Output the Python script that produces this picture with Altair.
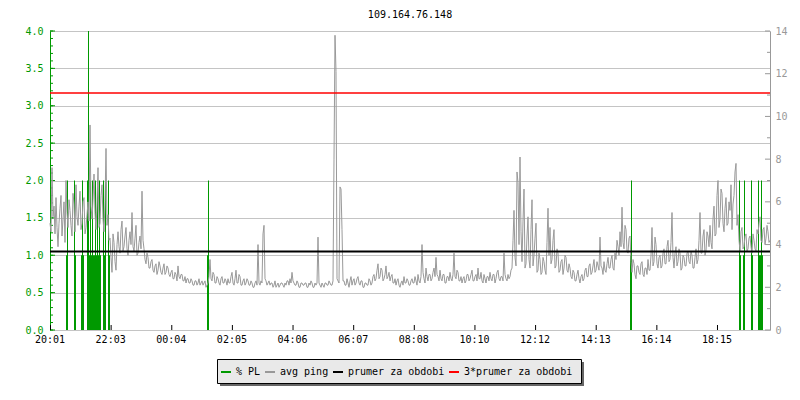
import altair as alt
import pandas as pd

# ---------------- data ----------------
title_text = "109.164.76.148"
series_names = ["% PL", "avg ping", "prumer za obdobi", "3*prumer za obdobi"]
series_colors = ["#009900", "#999999", "#000000", "#ff0000"]

x_labels = ["20:01", "22:03", "00:04", "02:05", "04:06", "06:07",
            "08:08", "10:10", "12:12", "14:13", "16:14", "18:15"]
x_tick_step = 121.27  # minutes between labelled ticks
x_span = 1440         # minutes shown

# avg ping (ms), one sample every 2 minutes from 20:01
ping_step = 2
ping_ms = [
    5.0, 4.6, 7.6, 5.3, 5.8, 4.5, 6.2, 4.8, 3.9, 5.0, 5.7, 6.3, 4.4, 5.2, 6.0, 4.1, 7.0, 5.5, 4.8, 6.1,
    5.6, 4.9, 4.4, 6.4, 5.9, 4.6, 6.8, 5.3, 4.9, 5.8, 6.5, 4.7, 5.0, 6.0, 6.2, 4.5, 4.8, 5.4, 6.0, 5.1,
    9.6, 5.8, 5.2, 6.1, 7.3, 5.5, 4.7, 5.9, 7.6, 4.8, 5.0, 6.3, 6.8, 5.2, 4.6, 6.0, 8.5, 4.9, 5.4, 4.2,
    4.3, 3.4, 2.7, 4.5, 4.1, 3.2, 2.8, 4.0, 4.6, 3.9, 3.6, 4.7, 5.1, 3.7, 3.9, 4.4, 4.8, 3.8, 3.5, 4.2,
    4.6, 4.0, 5.5, 3.9, 3.7, 4.3, 4.9, 3.5, 3.6, 4.1, 4.4, 3.8, 6.5, 4.2, 3.8, 3.3, 3.1, 3.6, 3.4, 2.9,
    2.9, 3.2, 3.3, 2.8, 2.7, 3.0, 3.1, 2.6, 2.8, 3.2, 3.0, 2.7, 2.6, 2.9, 3.1, 2.6, 2.7, 3.0, 2.9, 2.6,
    2.5, 2.7, 2.8, 2.4, 2.4, 2.7, 2.6, 2.3, 3.0, 2.5, 2.4, 2.6, 2.6, 2.3, 2.3, 2.5, 2.2, 2.4, 2.4, 2.2,
    2.2, 2.4, 2.3, 2.1, 2.1, 2.3, 2.3, 2.1, 2.2, 2.4, 2.1, 2.2, 2.3, 2.1, 2.2, 2.3, 2.0, 2.1, 2.2, 2.5,
    3.3, 2.4, 2.3, 2.7, 2.6, 2.2, 2.2, 2.5, 2.4, 2.2, 2.1, 2.4, 2.5, 2.2, 2.2, 2.4, 2.3, 2.1, 2.4, 2.2,
    2.2, 2.5, 2.7, 2.2, 2.1, 2.4, 2.8, 2.2, 2.2, 2.6, 2.5, 2.1, 2.1, 2.3, 2.4, 2.1, 2.2, 2.4, 2.3, 2.1,
    2.1, 2.3, 2.2, 2.0, 2.0, 2.2, 2.3, 2.1, 4.0, 2.2, 2.1, 2.3, 2.2, 4.5, 4.9, 2.4, 2.3, 2.1, 2.2, 2.3,
    2.1, 2.2, 2.2, 2.0, 2.1, 2.3, 2.0, 2.1, 2.2, 2.0, 2.1, 2.2, 2.2, 2.1, 2.0, 2.2, 2.1, 2.3, 2.3, 2.1,
    2.4, 2.2, 2.7, 2.3, 2.2, 2.1, 2.1, 2.3, 2.2, 2.0, 2.0, 2.2, 2.2, 2.1, 2.1, 2.2, 2.2, 2.0, 2.0, 2.2,
    2.1, 2.3, 2.2, 2.0, 2.0, 2.2, 2.1, 2.2, 4.35, 2.2, 2.1, 2.0, 2.2, 2.1, 2.0, 2.2, 2.2, 2.1, 2.1, 2.3,
    2.2, 2.1, 2.1, 2.3, 8.0, 13.8, 12.1, 2.4, 2.3, 2.2, 6.7, 6.6, 4.7, 2.3, 2.3, 2.1, 2.1, 2.4, 2.2, 2.0,
    2.3, 2.5, 2.1, 2.3, 2.4, 2.1, 2.2, 2.4, 2.5, 2.2, 2.1, 2.3, 2.3, 2.0, 2.0, 2.2, 2.2, 2.1, 2.1, 2.4,
    2.3, 2.1, 2.2, 2.5, 2.6, 2.3, 2.4, 2.8, 3.1, 2.4, 2.5, 2.9, 2.8, 2.3, 2.4, 2.6, 3.0, 2.4, 2.5, 2.7,
    2.3, 2.5, 2.6, 2.2, 2.2, 2.4, 2.1, 2.3, 2.4, 2.1, 2.0, 2.2, 2.3, 2.1, 2.5, 2.2, 2.2, 2.4, 2.3, 2.1,
    2.1, 2.3, 2.4, 2.2, 2.2, 2.5, 2.3, 2.1, 2.6, 2.3, 2.2, 2.5, 4.0, 2.7, 2.4, 2.2, 2.9, 2.5, 2.3, 2.6,
    2.6, 2.3, 2.4, 2.7, 2.9, 2.5, 3.4, 2.6, 2.5, 2.3, 2.8, 2.4, 2.3, 2.6, 2.6, 2.2, 2.2, 2.5, 2.5, 2.3,
    2.7, 2.4, 2.3, 2.6, 3.6, 2.5, 2.4, 2.8, 2.7, 2.3, 2.3, 2.5, 2.2, 2.4, 2.5, 2.2, 2.3, 2.6, 2.6, 2.3,
    2.4, 2.6, 2.8, 2.3, 2.3, 2.5, 2.6, 2.3, 2.9, 2.4, 2.4, 2.7, 2.3, 2.2, 2.6, 2.4, 2.2, 2.5, 2.5, 2.3,
    2.7, 2.4, 2.3, 2.6, 2.6, 2.2, 2.4, 2.7, 2.8, 2.4, 2.3, 2.5, 2.5, 2.3, 3.6, 2.6, 2.4, 2.3, 2.6, 2.4,
    2.5, 2.8, 2.9, 4.2, 5.6, 3.4, 3.0, 7.4, 6.9, 4.0, 8.1, 4.6, 3.2, 5.1, 6.6, 2.9, 3.1, 4.4, 5.3, 3.3,
    2.9, 4.7, 6.1, 3.0, 3.5, 4.3, 5.0, 2.7, 2.8, 3.6, 3.3, 2.6, 2.7, 3.4, 3.2, 2.8, 2.6, 4.1, 5.7, 3.5,
    4.8, 3.1, 3.3, 4.2, 4.7, 2.9, 3.0, 3.8, 3.6, 2.7, 2.8, 3.2, 3.3, 2.6, 2.9, 3.5, 3.4, 2.8, 2.7, 3.1,
    2.9, 2.5, 2.4, 2.8, 2.7, 2.3, 2.3, 2.6, 2.8, 2.4, 2.2, 2.5, 2.6, 2.3, 2.4, 2.8, 2.9, 2.5, 2.5, 3.0,
    3.1, 2.6, 2.7, 3.0, 3.3, 2.7, 2.8, 3.2, 3.0, 2.8, 4.35, 3.0, 2.9, 2.6, 3.2, 2.8, 2.7, 3.1, 3.4, 2.9,
    2.9, 3.3, 3.5, 2.9, 2.8, 3.6, 3.3, 4.2, 3.9, 3.5, 4.6, 3.9, 5.75, 4.1, 3.8, 4.9, 4.7, 3.7, 3.6, 4.3,
    4.4, 3.2, 2.7, 3.3, 3.1, 2.6, 2.4, 3.0, 3.0, 2.7, 2.6, 3.1, 3.2, 2.6, 2.5, 2.9, 2.9, 2.6, 3.3, 2.8,
    2.8, 3.5, 4.8, 3.0, 3.2, 4.35, 4.0, 3.1, 2.9, 3.4, 3.5, 2.9, 3.0, 3.6, 3.8, 3.1, 3.1, 3.9, 4.2, 3.2,
    3.3, 4.1, 5.5, 3.4, 2.9, 3.6, 3.9, 3.0, 3.2, 3.8, 3.6, 2.8, 2.9, 3.5, 3.4, 3.0, 3.0, 3.6, 3.7, 3.2,
    3.1, 3.7, 3.5, 2.9, 2.9, 3.4, 3.8, 3.1, 3.3, 4.2, 5.5, 3.6, 3.6, 4.4, 4.7, 3.5, 3.7, 4.6, 4.4, 3.9,
    4.9, 4.1, 3.8, 5.2, 5.8, 4.4, 4.5, 6.3, 7.0, 4.8, 5.2, 6.6, 6.4, 5.0, 4.6, 5.7, 6.2, 4.9, 5.0, 6.0,
    5.6, 6.8, 4.7, 5.9, 6.3, 7.4, 7.8, 4.9, 5.4, 4.2, 3.7, 4.6, 4.8, 3.8, 3.9, 4.4, 4.5, 3.7, 3.8, 4.3,
    4.4, 3.9, 3.6, 4.5, 4.2, 3.8, 3.7, 4.7, 4.5, 5.0, 5.3, 4.2, 4.1, 4.7, 4.8, 4.0, 4.3, 4.9, 4.6, 4.1,
    4.2,
]

# packet loss (%), minutes after 20:01
pl_minutes = [32, 34, 48, 50, 62, 64, 66, 74, 76, 78, 80, 82, 84, 86, 88, 90,
              92, 94, 96, 98, 100, 106, 108, 110, 116, 118, 314, 316, 1160, 1162,
              1378, 1380, 1386, 1388, 1402, 1404, 1416, 1418, 1420, 1422, 1424]
pl_values = [1.0, 2.0, 2.0, 1.0, 1.0, 2.0, 1.0, 2.0, 4.0, 1.0, 2.0, 1.0, 2.0, 1.0, 1.0, 2.0,
             1.0, 2.0, 1.0, 2.0, 1.0, 2.0, 1.0, 2.0, 2.0, 1.0, 1.0, 2.0, 1.0, 2.0,
             2.0, 1.0, 1.0, 2.0, 2.0, 1.0, 2.0, 1.0, 1.0, 2.0, 1.0]

avg_ping = 3.68       # prumer za obdobi (ms)
avg_ping_3x = 11.1    # 3*prumer za obdobi (ms)

left_ticks = [0.0, 0.5, 1.0, 1.5, 2.0, 2.5, 3.0, 3.5, 4.0]
left_minor = [i / 10 for i in range(41)]
right_ticks = [0, 2, 4, 6, 8, 10, 12, 14]
right_minor = [1, 3, 5, 7, 9, 11, 13]

# ---------------- chart ----------------
W, H = 720, 299
FONT = "DejaVu Sans Mono"
GREEN, GRAY = series_colors[0], series_colors[1]

df_ping = pd.DataFrame({"t": [i * ping_step for i in range(len(ping_ms))], "ms": ping_ms,
                        "s": series_names[1]})
df_pl = pd.DataFrame({"t": pl_minutes, "pl": pl_values, "s": series_names[0]})
df_avg = pd.DataFrame({"v": [avg_ping], "s": [series_names[2]]})
df_avg3 = pd.DataFrame({"v": [avg_ping_3x], "s": [series_names[3]]})
df_xt = pd.DataFrame({"t": [k * x_tick_step for k in range(len(x_labels))],
                      "lab": x_labels})

xscale = alt.Scale(domain=[0, x_span], nice=False, zero=False)
lscale = alt.Scale(domain=[0, 4], nice=False)
rscale = alt.Scale(domain=[0, 14], nice=False)
cscale = alt.Scale(domain=series_names, range=series_colors)

legend = alt.Legend(
    title=None, orient="none", legendX=170, legendY=335, direction="horizontal",
    symbolType="stroke", symbolSize=100, symbolStrokeWidth=2,
    labelFont=FONT, labelFontSize=10, labelColor="black", labelOffset=4,
    columnPadding=0, padding=0,
)
color = alt.Color("s:N", scale=cscale, legend=legend)

x_axis = alt.Axis(ticks=False, grid=False, labels=False, domainColor="black", title=None)
left_axis = alt.Axis(values=left_ticks, format=".1f", ticks=False, grid=True,
                     gridColor="#c4c4c4", domainColor=GREEN, labelColor=GREEN,
                     labelPadding=7, orient="left", title=None)
right_axis = alt.Axis(values=right_ticks, ticks=False, grid=False, domainColor=GRAY,
                      labelColor=GRAY, labelPadding=5, orient="right", title=None)

pl_layer = alt.Chart(df_pl).mark_rule(strokeWidth=1, xOffset=0.5).encode(
    x=alt.X("t:Q", scale=xscale, axis=x_axis),
    y=alt.Y("pl:Q", scale=lscale, axis=left_axis),
    y2=alt.datum(0),
    color=color,
)
lt_major = alt.Chart(pd.DataFrame({"v": left_ticks})).mark_rule(color=GREEN).encode(
    y=alt.Y("v:Q", scale=lscale, axis=None), x=alt.value(0), x2=alt.value(5))
lt_minor = alt.Chart(pd.DataFrame({"v": left_minor})).mark_rule(color=GREEN).encode(
    y=alt.Y("v:Q", scale=lscale, axis=None), x=alt.value(0), x2=alt.value(3))
xt_layer = alt.Chart(df_xt).mark_rule(color="black", xOffset=0.5).encode(
    x=alt.X("t:Q", scale=xscale, axis=None), y=alt.value(H - 5), y2=alt.value(H))
xlab_layer = alt.Chart(df_xt).mark_text(
    font=FONT, fontSize=10, color="black", align="center", baseline="top"
).encode(x=alt.X("t:Q", scale=xscale, axis=None), y=alt.value(H + 5), text="lab:N")
one = pd.DataFrame({"a": [0]})
shadow = alt.Chart(one).mark_rect(color="#666666").encode(
    x=alt.value(170), x2=alt.value(534), y=alt.value(331), y2=alt.value(355))
legend_box = alt.Chart(one).mark_rect(fill="#e9e9e9", stroke="black", strokeWidth=1).encode(
    x=alt.value(167.5), x2=alt.value(531.5), y=alt.value(328.5), y2=alt.value(352.5))

ping_layer = alt.Chart(df_ping).mark_line(strokeWidth=1).encode(
    x=alt.X("t:Q", scale=xscale, axis=None),
    y=alt.Y("ms:Q", scale=rscale, axis=right_axis),
    color=color,
)
avg_layer = alt.Chart(df_avg).mark_rule(strokeWidth=2).encode(
    y=alt.Y("v:Q", scale=rscale, axis=None), color=color)
avg3_layer = alt.Chart(df_avg3).mark_rule(strokeWidth=1.5).encode(
    y=alt.Y("v:Q", scale=rscale, axis=None), color=color)
rt_major = alt.Chart(pd.DataFrame({"v": right_ticks})).mark_rule(color=GRAY).encode(
    y=alt.Y("v:Q", scale=rscale, axis=None), x=alt.value(W - 5), x2=alt.value(W))
rt_minor = alt.Chart(pd.DataFrame({"v": right_minor})).mark_rule(color=GRAY).encode(
    y=alt.Y("v:Q", scale=rscale, axis=None), x=alt.value(W - 3), x2=alt.value(W))

chart = (
    alt.layer(pl_layer, lt_major, lt_minor, xt_layer, xlab_layer, shadow, legend_box,
              ping_layer, avg_layer, avg3_layer, rt_major, rt_minor)
    .resolve_scale(y="independent")
    .properties(
        width=W, height=H,
        title=alt.TitleParams(title_text, font=FONT, fontSize=10, fontWeight="normal",
                              color="black", anchor="middle", offset=6),
        autosize=alt.AutoSizeParams(type="none"),
        padding={"left": 42, "top": 23, "right": 22, "bottom": 60},
        background="white",
    )
    .configure_view(strokeWidth=0)
    .configure_axis(labelFont=FONT, labelFontSize=10, domainWidth=1)
)

chart.save("out.html", embed_options={"renderer": "svg", "actions": False})
